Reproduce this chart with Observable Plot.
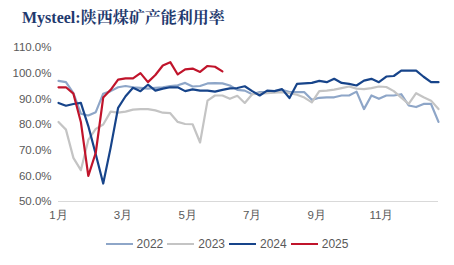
<!DOCTYPE html>
<html><head><meta charset="utf-8">
<script src="https://cdn.jsdelivr.net/npm/d3@7"></script>
<script src="https://cdn.jsdelivr.net/npm/@observablehq/plot@0.6"></script>
<style>
body{margin:0;background:#fff;font-family:"Liberation Sans",Arial,sans-serif;}
#title{height:32px;padding-left:22px;line-height:36px;font-weight:bold;font-size:16px;font-family:"Liberation Serif","Noto Serif CJK SC","Noto Sans CJK SC",serif;color:#1F3A6E;white-space:nowrap;}
#legend{display:flex;justify-content:center;align-items:center;height:24px;font-size:12px;color:#595959;}
.item{display:flex;align-items:center;margin:0 2px;}
.sw{width:27px;height:2px;margin-right:4px;}
</style></head>
<body>
<div id="title">Mysteel:陕西煤矿产能利用率</div>
<div id="chart"></div>
<div id="legend"></div>
<script>
const years = ["2022","2023","2024","2025"];
const colors = ["#8EA6C8","#C4C4C4","#17448A","#C0142B"];
const monthLabels = ["1月","3月","5月","7月","9月","11月"];
const monthNumbers = [1,3,5,7,9,11];
const yTicks = [50,60,70,80,90,100,110];

const y2022 = [97,96.5,92.2,84.2,83.5,84.8,92,93,94.5,95,94.5,94.3,94,94.3,94.5,95,95.3,96.2,94.8,95,96,96.1,96,95.2,93.5,93.2,91.8,92.6,92.6,93,93.5,92.6,92.6,92.6,89.6,90.4,90.6,90.6,91.3,91.3,92.8,86,91.3,90,91.3,91.3,91.8,87.4,86.8,88,88,81];
const y2023 = [81,78,67,62.2,74,78.3,80,85,84.6,85,85.8,86,86,85.5,84.6,84.4,81,80.2,80.1,73,89.3,91.3,91.3,90,91.2,88.4,91.8,92,92.2,92.4,92.6,92.2,91.6,90.5,88.6,93,93.2,93.6,94.2,94.8,94,93.8,94.2,94.8,94.6,93,90.5,88,92.2,90.6,89.3,86];
const y2024 = [88.4,87.3,88,88.4,79.4,68.4,57,71,86.5,91,94.3,93,95.5,93.2,94,94.5,94.5,93,93.7,93.2,93.2,92.8,93.5,94.1,94.2,94.9,93,91.3,93.2,93,93.8,90.3,95.8,96,96.2,97,96.5,97.8,96.2,95.8,95.2,97.1,97.8,96.5,98.7,98.9,101,101,101,98.6,96.5,96.5];
const y2025 = [94.5,94.5,92,81,60,69,90.5,93.5,97.5,98,98,100,96.5,99.3,103,104.3,99.5,101.5,101.8,100.5,102.8,102.5,100.7];

const series = [y2022,y2023,y2024,y2025];
const data = [];
series.forEach((arr, s) => arr.forEach((v, i) => data.push({year: years[s], week: i, value: v})));

const weeksPerYear = 52;
const tickPos = monthNumbers.map(m => (m - 1) * weeksPerYear / 12);
const labelOf = new Map(tickPos.map((p, i) => [p, monthLabels[i]]));

const plot = Plot.plot({
  width: 454,
  height: 200,
  marginLeft: 58,
  marginRight: 16,
  marginTop: 15,
  marginBottom: 31,
  style: {fontFamily: '"Liberation Sans", Arial, sans-serif', fontSize: "11.5px", color: "#595959", background: "#fff"},
  x: {domain: [0, 51]},
  y: {domain: [50, 110]},
  color: {domain: years, range: colors},
  marks: [
    Plot.axisY({ticks: yTicks, tickFormat: d => d.toFixed(1) + "%", tickSize: 0, tickPadding: 7, label: null}),
    Plot.axisX({ticks: tickPos, tickFormat: d => labelOf.get(d), tickSize: 0, tickPadding: 9, label: null}),
    Plot.ruleY([50], {stroke: "#D9D9D9", strokeWidth: 1}),
    Plot.line(data, {x: "week", y: "value", z: "year", stroke: "year", strokeWidth: 2.2, curve: "linear"})
  ]
});
document.getElementById("chart").appendChild(plot);

const legend = document.getElementById("legend");
years.forEach((y, i) => {
  const it = document.createElement("div");
  it.className = "item";
  it.innerHTML = `<span class="sw" style="background:${colors[i]}"></span><span>${y}</span>`;
  legend.appendChild(it);
});
</script>
</body></html>
